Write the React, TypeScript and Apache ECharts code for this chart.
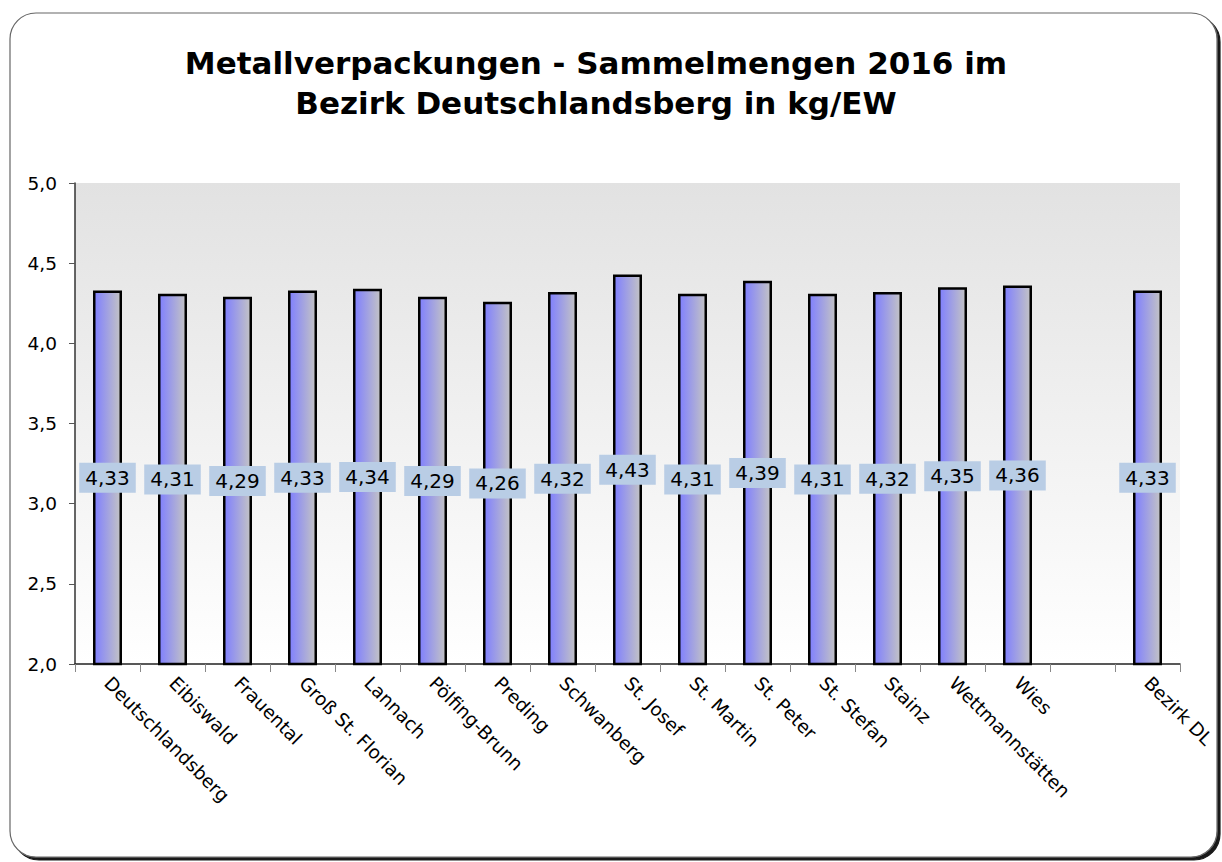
import React, { useEffect, useRef } from "react";
import * as echarts from "echarts";

const categories = [
  "Deutschlandsberg", "Eibiswald", "Frauental", "Groß St. Florian", "Lannach",
  "Pölfing-Brunn", "Preding", "Schwanberg", "St. Josef", "St. Martin",
  "St. Peter", "St. Stefan", "Stainz", "Wettmannstätten", "Wies", "", "Bezirk DL",
];
const values: (number | null)[] = [
  4.33, 4.31, 4.29, 4.33, 4.34, 4.29, 4.26, 4.32, 4.43, 4.31,
  4.39, 4.31, 4.32, 4.35, 4.36, null, 4.33,
];
const titleLines = [
  "Metallverpackungen - Sammelmengen 2016 im",
  "Bezirk Deutschlandsberg in kg/EW",
];

const fmt = (v: number, d: number) => v.toFixed(d).replace(".", ",");

export default function App() {
  const ref = useRef<HTMLDivElement>(null);
  useEffect(() => {
    const chart = echarts.init(ref.current!, null, { renderer: "svg" });
    const font = "'DejaVu Sans', Verdana, sans-serif";
    chart.setOption({
      animation: false,
      backgroundColor: "#ffffff",
      title: {
        text: titleLines.join("\n"),
        left: 591,
        textAlign: "center",
        top: 38,
        textStyle: { fontFamily: font, fontSize: 31, fontWeight: "bold", color: "#000", lineHeight: 40 },
      },
      graphic: [
        {
          type: "rect",
          z: -10,
          shape: { x: 10, y: 13, width: 1207, height: 844, r: 26 },
          style: {
            fill: "#fff",
            stroke: "#666",
            lineWidth: 1.2,
            shadowColor: "rgba(0,0,0,0.9)",
            shadowOffsetX: 3,
            shadowOffsetY: 3,
            shadowBlur: 1,
          },
        },
      ],
      grid: {
        left: 75,
        right: 42,
        top: 183,
        bottom: 198,
        show: true,
        borderWidth: 0,
        backgroundColor: new echarts.graphic.LinearGradient(0, 0, 0, 1, [
          { offset: 0, color: "#e2e2e2" },
          { offset: 1, color: "#ffffff" },
        ]),
      },
      xAxis: {
        type: "category",
        data: categories,
        axisLine: { lineStyle: { color: "#222", width: 1.5 } },
        axisTick: { show: true, length: 8, lineStyle: { color: "#888" } },
        axisLabel: {
          rotate: -45,
          interval: 0,
          fontFamily: font,
          fontSize: 18.5,
          color: "#000",
          margin: 16,
          align: "left",
          verticalAlign: "middle",
        },
      },
      yAxis: {
        type: "value",
        min: 2,
        max: 5,
        interval: 0.5,
        splitLine: { show: false },
        axisLine: { show: true, lineStyle: { color: "#333", width: 1.5 } },
        axisTick: { show: true, length: 6, lineStyle: { color: "#555" } },
        axisLabel: {
          fontFamily: font,
          fontSize: 18.5,
          color: "#000",
          margin: 18,
          formatter: (v: number) => fmt(v, 1),
        },
      },
      series: [
        {
          type: "bar",
          data: values,
          barWidth: 29,
          itemStyle: {
            color: new echarts.graphic.LinearGradient(0, 0, 1, 0, [
              { offset: 0, color: "#7f7fff" },
              { offset: 1, color: "#c4c4c4" },
            ]),
            borderColor: "#000",
            borderWidth: 2.5,
          },
          label: {
            show: true,
            position: "inside",
            fontFamily: font,
            fontSize: 20,
            color: "#000",
            backgroundColor: "#b9cde5",
            padding: [6, 6, 4, 6],
            formatter: (p: any) => fmt(p.value, 2),
          },
        },
      ],
    });
    return () => chart.dispose();
  }, []);
  return (
    <div
      ref={ref}
      style={{ position: "absolute", left: 0, top: 0, width: 1222, height: 862 }}
    />
  );
}
